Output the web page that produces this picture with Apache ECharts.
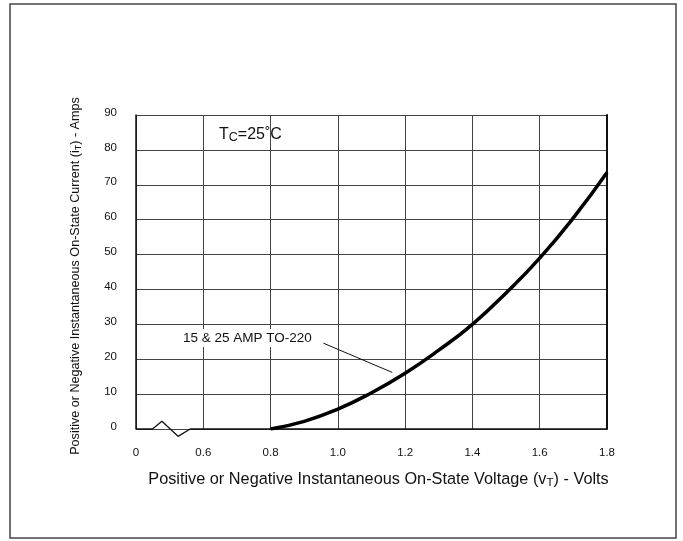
<!DOCTYPE html>
<html>
<head>
<meta charset="utf-8">
<script src="https://cdn.jsdelivr.net/npm/echarts@6/dist/echarts.min.js"></script>
<style>
  html, body { margin: 0; padding: 0; background: #fff; }
  #chart { width: 683px; height: 541px; }
</style>
</head>
<body>
<div id="chart"></div>
<script>
// 数据：横轴 0.4 处画作 "0"（断轴）
const voltage = [0.8, 0.9, 1.0, 1.1, 1.2, 1.3, 1.4, 1.5, 1.6, 1.7, 1.8]
const current = [0, 2.2, 5.7, 10.4, 16, 22.6, 30, 39, 49, 60.5, 73.5]
// 断轴折线 + 底线
const breakX = [0.4, 0.449, 0.477, 0.525, 0.561, 1.8]
const breakY = [0, 0, 2.2, -2.1, 0, 0]
// 引线
const leaderX = [0.957, 1.162]
const leaderY = [24.6, 16.2]
const xTicks = { min: 0.4, max: 1.8, step: 0.2 }
const yTicks = { min: 0, max: 90, step: 10 }

const font = 'Liberation Sans, Arial, Helvetica, sans-serif'
const ink = '#111'

const curve = voltage.map((v, i) => [v, current[i]])
const baseLine = breakX.map((v, i) => [v, breakY[i]])

const chart = echarts.init(document.getElementById('chart'))
const option = {
  animation: false,
  backgroundColor: '#fff',
  grid: {
    left: 136,
    right: 76,
    top: 115,
    bottom: 112
  },
  xAxis: {
    type: 'value',
    min: xTicks.min,
    max: xTicks.max,
    interval: xTicks.step,
    axisLine: { show: false },
    axisTick: { show: false },
    splitLine: {
      show: true,
      lineStyle: { color: '#444', width: 1 }
    },
    axisLabel: {
      color: ink,
      fontFamily: font,
      fontSize: 11.5,
      margin: 18,
      formatter (v) {
        return Math.abs(v - 0.4) < 1e-6 ? '0' : v.toFixed(1)
      }
    },
    name: 'Positive or Negative Instantaneous On-State Voltage (v{sub|T}) - Volts',
    nameLocation: 'middle',
    nameGap: 42,
    nameTextStyle: {
      color: ink,
      fontFamily: font,
      fontSize: 16.3,
      padding: [0, 0, 0, 14],
      rich: {
        sub: { fontSize: 11.5, fontFamily: font, color: ink, padding: [6, 0, 0, 0] }
      }
    }
  },
  yAxis: [{
    type: 'value',
    min: yTicks.min,
    max: yTicks.max,
    interval: yTicks.step,
    axisLine: { show: true, lineStyle: { color: ink, width: 1.5 } },
    axisTick: { show: false },
    splitLine: {
      show: true,
      lineStyle: { color: '#444', width: 1 }
    },
    axisLabel: {
      color: ink,
      fontFamily: font,
      fontSize: 11.5,
      margin: 19,
      verticalAlign: 'bottom',
      lineHeight: 5
    },
    name: 'Positive or Negative Instantaneous On-State Current (i{sub|T}) - Amps',
    nameLocation: 'middle',
    nameGap: 53,
    nameTextStyle: {
      color: ink,
      fontFamily: font,
      fontSize: 12.6,
      padding: [0, 8, 0, 0],
      rich: {
        sub: { fontSize: 9, fontFamily: font, color: ink, padding: [5, 0, 0, 0] }
      }
    }
  }, {
    type: 'value',
    position: 'right',
    min: yTicks.min,
    max: yTicks.max,
    interval: yTicks.step,
    axisLine: { show: true, lineStyle: { color: ink, width: 2 } },
    axisTick: { show: false },
    axisLabel: { show: false },
    splitLine: { show: false }
  }],
  series: [{
    type: 'line',
    data: baseLine,
    clip: false,
    symbol: 'none',
    lineStyle: { color: ink, width: 1.3 }
  }, {
    type: 'line',
    data: curve,
    smooth: true,
    symbol: 'none',
    lineStyle: { color: '#000', width: 3.5 },
    markLine: {
      silent: true,
      symbol: 'none',
      label: { show: false },
      lineStyle: { color: ink, width: 1, type: 'solid' },
      data: [[
        { coord: [leaderX[0], leaderY[0]] },
        { coord: [leaderX[1], leaderY[1]] }
      ]]
    }
  }],
  graphic: [{
    type: 'rect',
    shape: { x: 10, y: 4, width: 666, height: 534 },
    style: { fill: 'none', stroke: '#444', lineWidth: 1.5 },
    silent: true
  }, {
    type: 'text',
    left: 219,
    top: 127,
    style: {
      text: '{a|T}{s|C}{a|=25˚C}',
      rich: {
        a: { fontSize: 16, fontFamily: font, fill: ink },
        s: { fontSize: 12.5, fontFamily: font, fill: ink, padding: [6, 0, 0, 0] }
      }
    }
  }, {
    type: 'text',
    left: 181,
    top: 329,
    z: 100,
    style: {
      text: '15 & 25 AMP TO-220',
      fontSize: 13.5,
      fontFamily: font,
      fill: ink,
      backgroundColor: '#fff',
      padding: [2, 2]
    }
  }]
}
chart.setOption(option)
</script>
</body>
</html>
